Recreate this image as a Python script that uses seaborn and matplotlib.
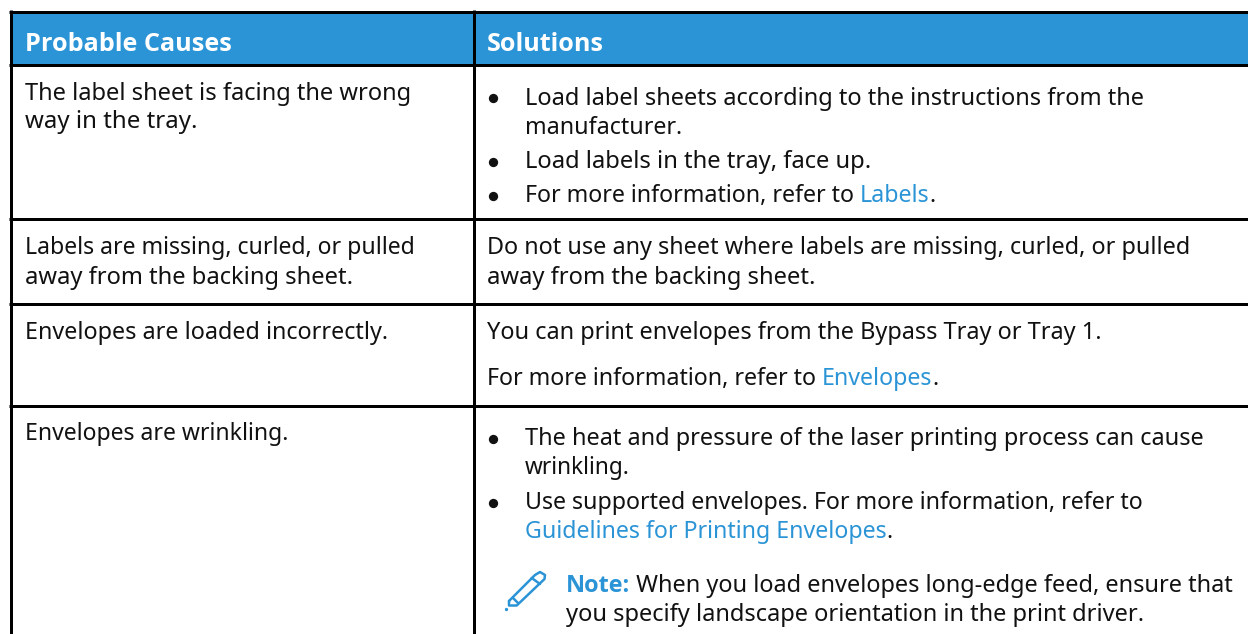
import matplotlib
matplotlib.use("Agg")
import matplotlib.pyplot as plt
import seaborn as sns

BLUE = "#2b94d6"
LINK = "#2b94d6"
INK = "#111111"
BOLD_FONT = "Open Sans"

headers = ["Probable Causes", "Solutions"]
causes = [
    ["The label sheet is facing the wrong", "way in the tray."],
    ["Labels are missing, curled, or pulled", "away from the backing sheet."],
    ["Envelopes are loaded incorrectly."],
    ["Envelopes are wrinkling."],
]
# each line: list of (text, style) runs
solutions = [
    [("bullet", [("Load label sheets according to the instructions from the", "n")]),
     ("cont", [("manufacturer.", "n")]),
     ("bullet", [("Load labels in the tray, face up.", "n")]),
     ("bullet", [("For more information, refer to ", "n"), ("Labels", "l"), (".", "n")])],
    [("plain", [("Do not use any sheet where labels are missing, curled, or pulled", "n")]),
     ("plain", [("away from the backing sheet.", "n")])],
    [("plain", [("You can print envelopes from the Bypass Tray or Tray 1.", "n")]),
     ("plain", [("For more information, refer to ", "n"), ("Envelopes", "l"), (".", "n")])],
    [("bullet", [("The heat and pressure of the laser printing process can cause", "n")]),
     ("cont", [("wrinkling.", "n")]),
     ("bullet", [("Use supported envelopes. For more information, refer to", "n")]),
     ("cont", [("Guidelines for Printing Envelopes", "l"), (".", "n")]),
     ("note", [("Note:", "b"), (" When you load envelopes long-edge feed, ensure that", "n")]),
     ("note", [("you specify landscape orientation in the print driver.", "n")])],
]

sns.set_theme(style="white")
plt.rcParams["font.family"] = ["Noto Sans", "DejaVu Sans"]
fig = plt.figure(figsize=(12.48, 6.34), dpi=100)
ax = fig.add_axes([0, 0, 1, 1])
ax.set_xlim(0, 1248)
ax.set_ylim(634, 0)
ax.axis("off")

FS = 17.0
ax.fill_between([10, 1248], 12, 64, color=BLUE, lw=0)
for y in [11.5, 64.5, 218.5, 303.5, 405.5]:
    ax.plot([9, 1248], [y, y], color="black", lw=2.16, solid_capstyle="butt")
for x in [10.5, 473.5]:
    ax.plot([x, x], [10, 634], color="black", lw=2.16, solid_capstyle="butt")

renderer = fig.canvas.get_renderer()


def runs(x0, y, parts, end):
    """Draw the runs of one line, sized so that the line ends at x = end."""
    texts = []
    for s, st in parts:
        kw = dict(fontweight="bold", family=BOLD_FONT) if st == "b" else {}
        texts.append(ax.text(x0, y, s, fontsize=FS, color=LINK if st in "lb" else INK, **kw))
    total = sum(t.get_window_extent(renderer).width for t in texts)
    size = FS * (end - x0) / total
    x = x0
    for t in texts:
        t.set_fontsize(size)
        t.set_x(x)
        x += t.get_window_extent(renderer).width


for x, s, end in zip([25, 487.3], headers, [231.7, 604]):
    t = ax.text(x, 50.7, s, color="white", fontsize=FS, fontweight="bold", family=BOLD_FONT)
    t.set_fontsize(FS * (end - x) / t.get_window_extent(renderer).width)

cause_y = [[100, 128.5], [254.3, 283.7], [338.7], [440.3]]
cause_end = [[411, 196.7], [415, 352.7], [387], [288]]
for lines, ys, ends in zip(causes, cause_y, cause_end):
    for s, y, end in zip(lines, ys, ends):
        runs(25, y, [(s, "n")], end)

sol_y = [[105, 134, 168.3, 202.3], [254.3, 283.7], [338.7, 385.3],
         [445, 474.3, 509.3, 538.3, 591.7, 620.7]]
sol_end = [[1144.5, 682, 871, 937], [1188, 815], [1102, 940],
           [1204, 630, 1144.5, 893, 1232.7, 1145]]
bullet_y = [[97.7, 161.7, 196], [], [], [438.5, 502.7]]
for lines, ys, ends, bys in zip(solutions, sol_y, sol_end, bullet_y):
    for by in bys:
        ax.plot([492.7], [by], "o", color=INK, ms=6.7, mew=0)
    for (kind, parts), y, end in zip(lines, ys, ends):
        x0 = {"plain": 487, "note": 566}.get(kind, 525)
        runs(x0, y, parts, end)

# pencil icon
ax.plot([509, 535, 540, 545, 544.5, 516.7, 509, 509],
        [601, 575, 572, 575, 579, 605.5, 605.5, 601],
        color=LINK, lw=1.8, solid_joinstyle="round")
ax.plot([531.7, 540], [578, 584], color=LINK, lw=1.8)
ax.plot([513, 518], [598, 603], color=LINK, lw=1.8)
ax.plot([506], [608.5], "o", color=LINK, ms=2.4, mew=0)

fig.savefig("out.png", dpi=100)
